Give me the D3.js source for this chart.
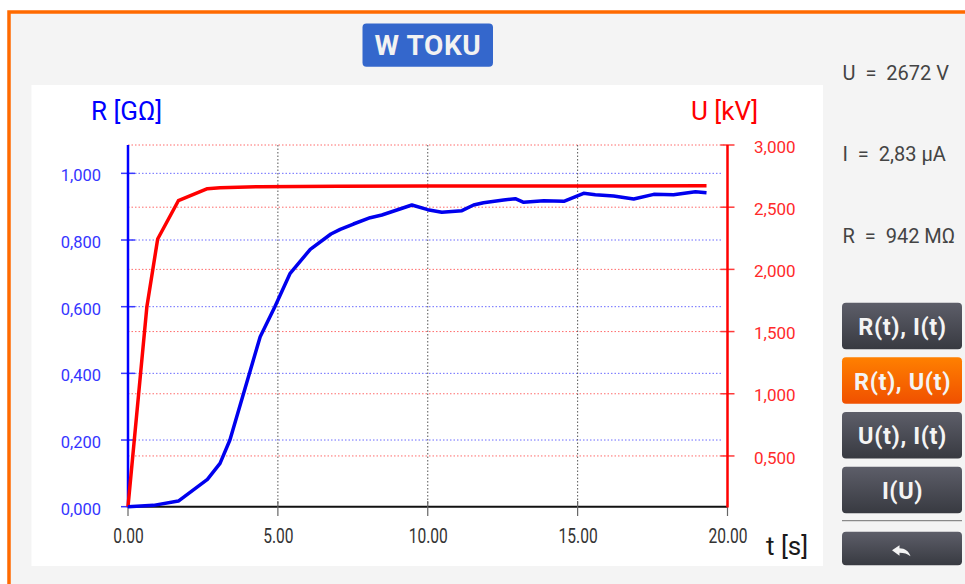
<!DOCTYPE html>
<html><head><meta charset="utf-8">
<script src="https://cdn.jsdelivr.net/npm/d3@7"></script>
<style>
html,body{margin:0;padding:0;background:#fff;}
svg{display:block;font-family:Roboto,"Noto Sans",sans-serif;}
</style></head><body>
<svg id="chart" width="965" height="584"></svg>
<script>
// Insulation resistance R(t) [GΩ] measured while test voltage U(t) [kV] ramps up
const timeR = [0, 0.85, 1.68, 2.65, 3.07, 3.4, 4.41, 4.9, 5.41, 6.08, 6.77, 7.08, 7.52, 8.08, 8.47,
  9.47, 10.0, 10.47, 11.14, 11.53, 11.86, 12.53, 12.92, 13.2, 13.87, 14.54, 15.2, 15.59, 16.2,
  16.87, 17.54, 18.2, 18.93, 19.3];
const resistanceGOhm = [0, 0.004, 0.017, 0.082, 0.13, 0.2, 0.51, 0.6, 0.70, 0.772, 0.818, 0.832, 0.848,
  0.867, 0.875, 0.905, 0.891, 0.883, 0.888, 0.905, 0.912, 0.920, 0.924, 0.913, 0.918, 0.916, 0.940,
  0.936, 0.932, 0.923, 0.937, 0.936, 0.945, 0.942];
const timeU = [0, 0.63, 0.99, 1.68, 2.65, 3.07, 4.41, 7.0, 10.0, 15.0, 19.3];
const voltageKV = [0, 1.70, 2.244, 2.552, 2.649, 2.657, 2.665, 2.668, 2.670, 2.671, 2.672];

const timeTicks = [0, 5, 10, 15, 20];
const rTicks = [0, 0.2, 0.4, 0.6, 0.8, 1.0];
const uTicks = [0.5, 1.0, 1.5, 2.0, 2.5, 3.0];

const readings = ["U  =  2672 V", "I  =  2,83 μA", "R  =  942 MΩ"];
const modeButtons = ["R(t), I(t)", "R(t), U(t)", "U(t), I(t)", "I(U)"];
const activeMode = 1;

const svg = d3.select("#chart");
const commaFmt = d3.formatLocale({decimal: ",", thousands: ".", grouping: [3], currency: ["", ""]}).format(".3f");
const dotFmt = d3.format(".2f");

// Scales
const x = d3.scaleLinear().domain([0, 20]).range([128, 727.5]);
const yR = d3.scaleLinear().domain([0, 1.085]).range([506.7, 145]);
const yU = d3.scaleLinear().domain([0.092, 3.0]).range([506.7, 145]).clamp(true);

// Gradients for the buttons
const defs = svg.append("defs");
function grad(id, c1, c2) {
  const g = defs.append("linearGradient").attr("id", id).attr("x1", 0).attr("y1", 0).attr("x2", 0).attr("y2", 1);
  g.append("stop").attr("offset", "0%").attr("stop-color", c1);
  g.append("stop").attr("offset", "100%").attr("stop-color", c2);
}
grad("gDark", "#5d5e69", "#383a41");
grad("gOrange", "#ff8000", "#f05000");

// Frame
svg.append("rect").attr("x", 0).attr("y", 0).attr("width", 965).attr("height", 584).attr("fill", "#ffffff");
svg.append("rect").attr("x", 9).attr("y", 12).attr("width", 980).attr("height", 600)
  .attr("fill", "#f4f4f4").attr("stroke", "#ff6a00").attr("stroke-width", 3.5);

// Title badge
svg.append("rect").attr("x", 362.5).attr("y", 23.5).attr("width", 130.5).attr("height", 43.3).attr("rx", 4)
  .attr("fill", "#3467cc");
svg.append("text").attr("x", 428).attr("y", 55).attr("text-anchor", "middle")
  .attr("fill", "#f2f2f2").attr("font-size", 28).attr("font-weight", "bold")
  .attr("letter-spacing", 0.6).text("W TOKU");

// Plot panel
svg.append("rect").attr("x", 31.5).attr("y", 85).attr("width", 791.5).attr("height", 481).attr("fill", "#ffffff");

// Grid
const grid = svg.append("g");
grid.selectAll(".gu").data(uTicks).join("line")
  .attr("x1", x(0)).attr("x2", x(20)).attr("y1", d => yU(d)).attr("y2", d => yU(d))
  .attr("stroke", "#ff6b6b").attr("stroke-width", 1).attr("stroke-dasharray", "1.5,2");
grid.selectAll(".gr").data(rTicks.filter(d => d > 0)).join("line")
  .attr("x1", x(0)).attr("x2", x(19.8)).attr("y1", d => yR(d)).attr("y2", d => yR(d))
  .attr("stroke", "#6b6bff").attr("stroke-width", 1).attr("stroke-dasharray", "1.5,2");
grid.selectAll(".gt").data(timeTicks.filter(d => d > 0 && d < 20)).join("line")
  .attr("x1", d => x(d)).attr("x2", d => x(d)).attr("y1", 145).attr("y2", 506.7)
  .attr("stroke", "#555").attr("stroke-width", 1).attr("stroke-dasharray", "1.5,2");

// Bottom axis (condensed numerals)
const xAxis = svg.append("g").attr("transform", "translate(0,506.7)")
  .call(d3.axisBottom(x).tickValues(timeTicks).tickFormat(dotFmt).tickSize(0).tickPadding(22));
xAxis.select(".domain").remove();
xAxis.selectAll("text").attr("font-size", 20).attr("fill", "#333").attr("font-family", "Roboto, sans-serif")
  .attr("transform", "scale(0.78,1)");
svg.append("line").attr("x1", x(0)).attr("x2", x(20)).attr("y1", 506.7).attr("y2", 506.7)
  .attr("stroke", "#111").attr("stroke-width", 2);
svg.selectAll(".xt").data(timeTicks).join("line")
  .attr("x1", d => x(d)).attr("x2", d => x(d)).attr("y1", 501).attr("y2", 516)
  .attr("stroke", "#666").attr("stroke-width", 1.2);

// Left axis (R)
const lAxis = svg.append("g").attr("transform", `translate(${x(0)},0)`)
  .call(d3.axisLeft(yR).tickValues(rTicks).tickFormat(commaFmt).tickSize(0).tickPadding(27));
lAxis.select(".domain").remove();
lAxis.selectAll("text").attr("font-size", 16.5).attr("dy", "0.45em").attr("fill", "#3535ff")
  .attr("font-family", "Roboto, sans-serif");
svg.selectAll(".lt").data(rTicks).join("line")
  .attr("x1", x(0) - 7).attr("x2", x(0) + 7).attr("y1", d => yR(d)).attr("y2", d => yR(d))
  .attr("stroke", "#3a3aff").attr("stroke-width", 1.5);

// Right axis (U)
const rAxis = svg.append("g").attr("transform", `translate(${x(20)},0)`)
  .call(d3.axisRight(yU).tickValues(uTicks).tickFormat(commaFmt).tickSize(0).tickPadding(26.5));
rAxis.select(".domain").remove();
rAxis.selectAll("text").attr("font-size", 17).attr("dy", "0.42em").attr("fill", "#ff2a2a")
  .attr("font-family", "Roboto, sans-serif");
svg.selectAll(".rt").data(uTicks).join("line")
  .attr("x1", x(20) - 7).attr("x2", x(20) + 7).attr("y1", d => yU(d)).attr("y2", d => yU(d))
  .attr("stroke", "#ff3a3a").attr("stroke-width", 1.5);

// Axis lines
svg.append("line").attr("x1", x(0)).attr("x2", x(0)).attr("y1", 145).attr("y2", 507.5)
  .attr("stroke", "#0000ff").attr("stroke-width", 2.5);
svg.append("line").attr("x1", x(20)).attr("x2", x(20)).attr("y1", 145).attr("y2", 507.5)
  .attr("stroke", "#ff0000").attr("stroke-width", 2.5);

// Axis titles
svg.append("text").attr("x", 91).attr("y", 120).attr("font-size", 26).attr("fill", "#0000ff").text("R [GΩ]");
svg.append("text").attr("x", 691).attr("y", 120).attr("font-size", 26).attr("fill", "#ff0000").text("U [kV]");
svg.append("text").attr("x", 766).attr("y", 555).attr("font-size", 26).attr("fill", "#1a1a1a").text("t [s]");

// Series
const lineR = d3.line().x((d, i) => x(timeR[i])).y(d => yR(d));
const lineU = d3.line().x((d, i) => x(timeU[i])).y(d => yU(d));
svg.append("path").datum(voltageKV).attr("d", lineU).attr("fill", "none")
  .attr("stroke", "#ff0000").attr("stroke-width", 3.5).attr("stroke-linejoin", "round");
svg.append("path").datum(resistanceGOhm).attr("d", lineR).attr("fill", "none")
  .attr("stroke", "#0000ee").attr("stroke-width", 3.5).attr("stroke-linejoin", "round");

// Live readings
svg.selectAll(".reading").data(readings).join("text")
  .attr("x", 842.5).attr("y", (d, i) => 80 + i * 81.3)
  .attr("font-size", 20).attr("fill", "#444").style("white-space", "pre").text(d => d);

// Mode buttons
const btnTop = [302.7, 357.3, 412, 466.7];
const btn = svg.selectAll(".btn").data(modeButtons).join("g")
  .attr("transform", (d, i) => `translate(842,${btnTop[i]})`);
btn.append("rect").attr("width", 120).attr("height", 46.5).attr("rx", 4)
  .attr("fill", (d, i) => i === activeMode ? "url(#gOrange)" : "url(#gDark)");
btn.append("text").attr("x", 60.5).attr("y", 32.3).attr("text-anchor", "middle")
  .attr("font-size", 23.5).attr("font-weight", "bold").attr("letter-spacing", 0.6)
  .attr("fill", "#f4f4f4").text(d => d);

svg.append("line").attr("x1", 842).attr("x2", 962).attr("y1", 520.7).attr("y2", 520.7)
  .attr("stroke", "#8a8a8a").attr("stroke-width", 1.3);
const back = svg.append("g").attr("transform", "translate(842,531.7)");
back.append("rect").attr("width", 120).attr("height", 33.5).attr("rx", 4).attr("fill", "url(#gDark)");
back.append("path").attr("transform", "translate(50,13.5)")
  .attr("d", "M0,5 L7.5,0 L7.5,3 C13,3 17,6 18.5,11 C15.5,8.5 12,7.5 7.5,7.5 L7.5,10.5 Z")
  .attr("fill", "#f4f4f4");
</script>
</body></html>
